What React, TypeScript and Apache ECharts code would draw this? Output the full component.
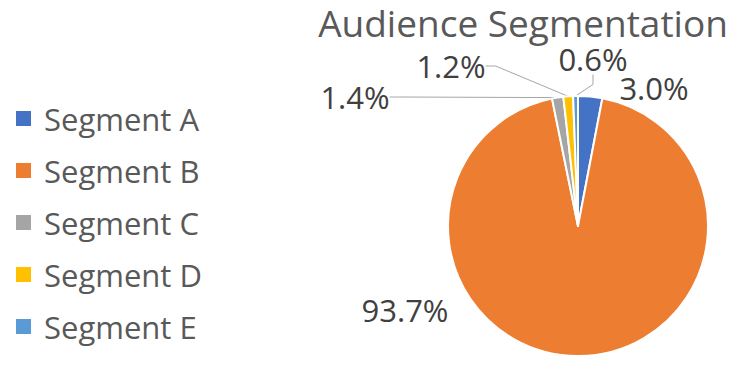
import React, { useEffect, useRef } from "react";
import * as echarts from "echarts";

const categories = ["Segment A", "Segment B", "Segment C", "Segment D", "Segment E"];
const values = [3.0, 93.7, 1.4, 1.2, 0.6];
const colors = ["#4472C4", "#ED7D31", "#A5A5A5", "#FFC000", "#5B9BD5"];
const showLeader = [false, false, true, true, true];
// label anchor positions (center of label text)
const labelPos: [number, number][] = [
  [654, 88],
  [405, 310],
  [355, 97],
  [451, 66],
  [593, 59],
];

export default function App() {
  const ref = useRef<HTMLDivElement>(null);
  useEffect(() => {
    if (!ref.current) return;
    const chart = echarts.init(ref.current, undefined, { renderer: "svg" });
    const font = "'Open Sans', 'Noto Sans', sans-serif";
    chart.setOption({
      animation: false,
      backgroundColor: "#ffffff",
      title: {
        text: "Audience Segmentation",
        left: 523,
        top: 3,
        padding: 0,
        textAlign: "center",
        textStyle: { fontFamily: font, fontSize: 37, fontWeight: "normal", color: "#595959", lineHeight: 38 },
      },
      legend: {
        orient: "vertical",
        left: 14,
        top: 103,
        padding: 0,
        icon: "rect",
        itemWidth: 17,
        itemHeight: 17,
        itemGap: 21,
        data: categories,
        textStyle: { fontFamily: font, fontSize: 31, color: "#595959", lineHeight: 31, padding: [0, 0, 0, 7] },
      },
      series: [
        {
          type: "pie",
          center: [578, 226],
          radius: 130,
          startAngle: 90,
          clockwise: true,
          itemStyle: { borderColor: "#ffffff", borderWidth: 2 },
          label: {
            show: true,
            position: "outside",
            formatter: (p: any) => p.value.toFixed(1) + "%",
            fontFamily: font,
            fontSize: 31,
            lineHeight: 28,
            color: "#404040",
          },
          labelLine: { show: true, length: 10, length2: 10, lineStyle: { color: "#A6A6A6", width: 1 } },
          labelLayout: (params: any) => {
            const pos = labelPos[params.dataIndex];
            return { x: pos[0], y: pos[1], align: "center", verticalAlign: "middle" };
          },
          data: categories.map((name, i) => ({
            name,
            value: values[i],
            itemStyle: { color: colors[i] },
            labelLine: { show: showLeader[i] },
          })),
        },
      ],
    });
    return () => chart.dispose();
  }, []);
  return (
    <div
      ref={ref}
      style={{ position: "absolute", left: 0, top: 0, width: 751, height: 376 }}
    />
  );
}
